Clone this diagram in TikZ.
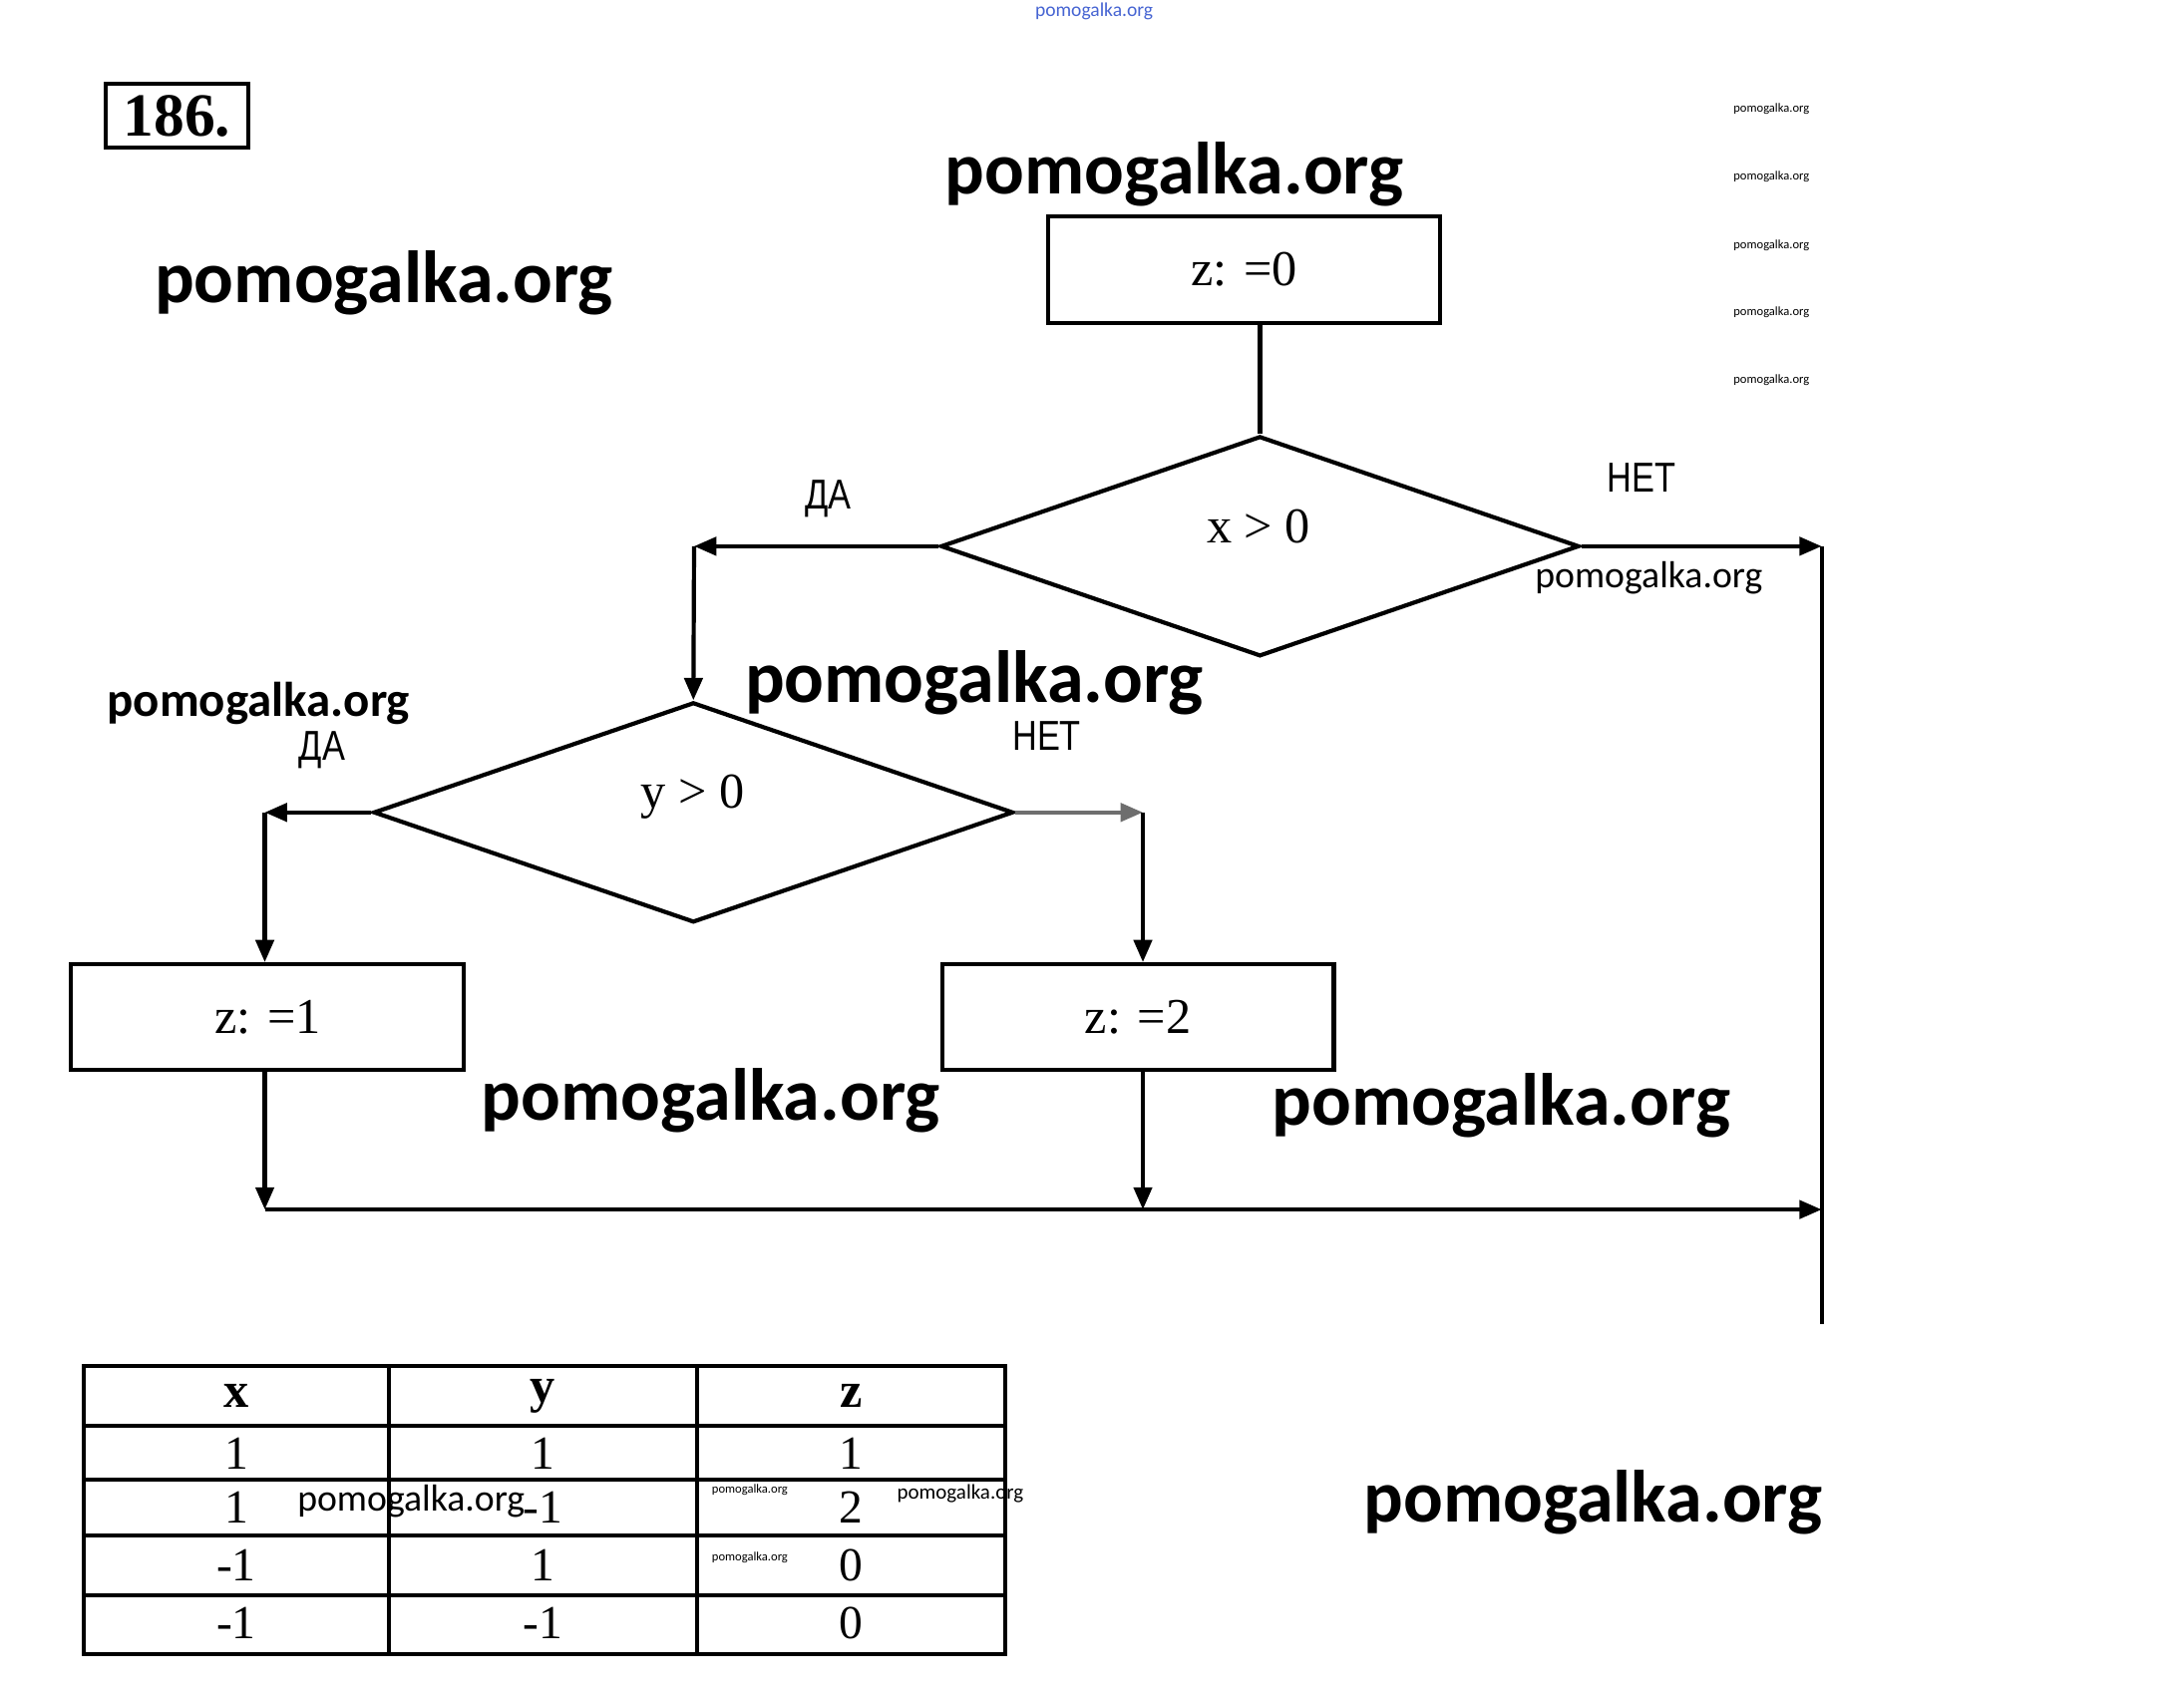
\documentclass[tikz,border=0pt]{standalone}
\usepackage{fontspec}
\setmainfont{Liberation Serif}
\newfontfamily\wm{Carlito}
\newfontfamily\nsans[FakeStretch=0.82]{Liberation Sans}
\usetikzlibrary{arrows.meta,shapes.geometric}
\definecolor{wmblue}{RGB}{70,100,210}
\definecolor{scan}{RGB}{110,110,110}
\begin{document}
\begin{tikzpicture}[x=1pt,y=-1pt,line width=3pt,
  pbox/.style={draw,rectangle,inner sep=0pt,font=\fontsize{36}{40}\selectfont},
  dia/.style={draw,diamond,inner sep=0pt,minimum width=458pt,minimum height=158pt},
  arr/.style={-{Triangle[length=16pt,width=13pt]}},
  lbl/.style={font=\nsans\fontsize{30}{32}\selectfont},
  cond/.style={font=\fontsize{36}{40}\selectfont},
  wmbig/.style={font=\wm\bfseries\fontsize{53}{60}\selectfont},
  wmmid/.style={font=\wm\fontsize{27}{30}\selectfont},
  wmsmall/.style={font=\wm\fontsize{15}{18}\selectfont},
  wmtiny/.style={font=\wm\fontsize{9}{10}\selectfont},
  thead/.style={font=\bfseries\fontsize{36}{40}\selectfont},
  tcell/.style={font=\fontsize{34}{38}\selectfont}]
\useasboundingbox (0,0) rectangle (1567,1216);

% title box
\node[draw,line width=3pt,inner sep=0pt,minimum width=102pt,minimum height=46pt,
  font=\bfseries\fontsize{44}{46}\selectfont] (num) at (127,83) {186.};

% top blue watermark
\node[font=\wm\fontsize{14}{16}\selectfont,text=wmblue] (wtop) at (785,8) {pomogalka.org};

% flowchart
\node[pbox,minimum width=281pt,minimum height=77pt] (z0) at (892.5,193.5) {z: =0};
\node[dia] (d1) at (904,392) {};
\node[cond] (t1) at (903,378) {x > 0};
\node[dia,minimum width=459pt] (d2) at (497.5,583) {};
\node[cond] (t2) at (497,572) {y > 0};
\node[pbox,minimum width=282pt,minimum height=76pt] (z1) at (192,730) {z: =1};
\node[pbox,minimum width=281pt,minimum height=76pt] (z2) at (816.5,730) {z: =2};

\coordinate (c1) at (498,392);
\coordinate (c2) at (190,583);
\coordinate (c3) at (820,583);
\coordinate (c4) at (1307,392);
\coordinate (c5) at (1307,950);
\coordinate (j1) at (190,868);
\coordinate (j2) at (820,868);
\coordinate (j3) at (1307,868);

\draw (z0.south -| d1.north) -- (d1.north);
\draw[arr] (d1.west) -- (c1);
\draw[arr] (c1) -- (d2.north);
\draw[arr] (d1.east) -- (c4);
\draw (c4) -- (c5);
\draw[arr] (d2.west) -- (c2);
\draw[arr] (c2) -- (c2 |- z1.north);
\draw[arr,draw=scan] (d2.east) -- (c3);
\draw[arr] (c3) -- (c3 |- z2.north);
\draw[arr] (z1.south -| c2) -- (j1);
\draw[arr] (z2.south -| c3) -- (j2);
\draw[arr] (j1) -- (j3);

\node[lbl] (da1) at (594,358) {ДА};
\node[lbl] (net1) at (1178,343) {НЕТ};
\node[lbl] (da2) at (231,538) {ДА};
\node[lbl] (net2) at (751,528) {НЕТ};

% table
\draw (60,980) rectangle (721,1187);
\foreach \yy in {1023,1062,1102,1145} \draw (60,\yy) -- (721,\yy);
\foreach \xx in {279,500} \draw (\xx,980) -- (\xx,1187);
\node[thead] (hx) at (169.5,1002) {x};
\node[thead] (hy) at (389.5,1002) {y};
\node[thead] (hz) at (610.5,1002) {z};
\node[tcell] (a1) at (169.5,1043) {1};
\node[tcell] (b1) at (389.5,1043) {1};
\node[tcell] (e1) at (610.5,1043) {1};
\node[tcell] (a2) at (169.5,1082) {1};
\node[tcell] (b2) at (389.5,1082) {-1};
\node[tcell] (e2) at (610.5,1082) {2};
\node[tcell] (a3) at (169.5,1123) {-1};
\node[tcell] (b3) at (389.5,1123) {1};
\node[tcell] (e3) at (610.5,1123) {0};
\node[tcell] (a4) at (169.5,1165) {-1};
\node[tcell] (b4) at (389.5,1165) {-1};
\node[tcell] (e4) at (610.5,1165) {0};

% watermarks
\node[wmbig] (w1) at (842.5,125) {pomogalka.org};
\node[wmbig] (w2) at (275.5,203) {pomogalka.org};
\node[wmbig] (w3) at (699,490) {pomogalka.org};
\node[wmbig] (w4) at (510,790) {pomogalka.org};
\node[wmbig] (w5) at (1077,793) {pomogalka.org};
\node[wmbig] (w6) at (1143,1078) {pomogalka.org};
\node[wmmid] (w7) at (1183,415) {pomogalka.org};
\node[wmmid,font=\wm\bfseries\fontsize{35}{38}\selectfont] (w8) at (185.5,505) {pomogalka.org};
\node[wmmid] (w9) at (295,1077) {pomogalka.org};
\node[wmsmall] (w10) at (689,1072) {pomogalka.org};
\foreach \yy [count=\i] in {78,127,176,224,273}
  \node[wmtiny] (wt\i) at (1271,\yy) {pomogalka.org};
\node[wmtiny] (wt6) at (538,1069) {pomogalka.org};
\node[wmtiny] (wt7) at (538,1118) {pomogalka.org};
\end{tikzpicture}
\end{document}
